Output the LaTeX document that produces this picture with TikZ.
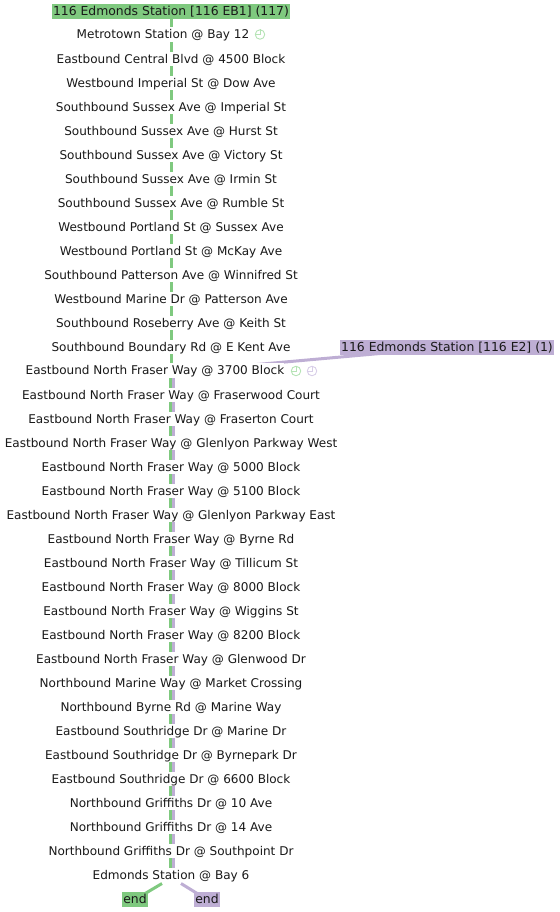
\documentclass[tikz,border=0pt]{standalone}
\usepackage{fontspec}
\setmainfont{DejaVu Sans}
\usetikzlibrary{backgrounds}
\definecolor{grn}{HTML}{7FC97F}
\definecolor{pur}{HTML}{BEAED4}
\definecolor{grnl}{HTML}{B5E3B5}
\definecolor{purl}{HTML}{D8CEE8}
\tikzset{
  x=1pt,y=-1pt,
  stop/.style={fill=white,inner sep=0pt,minimum height=14.5pt,text height=9pt,text depth=0.5pt,font=\fontsize{12.05}{14}\selectfont,text=black!90},
  route/.style={inner sep=1pt,minimum height=15pt,text height=9pt,text depth=0.5pt,font=\fontsize{12.4}{14}\selectfont,text=black!90},
  gl/.style={draw=grn,line width=3pt},
  pl/.style={draw=pur,line width=3pt},
  clockg/.style={circle,draw=grnl,line width=.9pt,minimum size=9.5pt,inner sep=0pt},
  clockp/.style={circle,draw=purl,line width=.9pt,minimum size=9.5pt,inner sep=0pt},
}
\newcommand{\clockhands}[2]{\draw[#2,line width=.8pt] (#1.north) -- (#1.center) -- (#1.west);}
\begin{document}
\begin{tikzpicture}
\useasboundingbox (0,0) rectangle (559,912);
\node[route,fill=grn,minimum width=238pt] (top) at (171,11.5) {116 Edmonds Station [116 EB1] (117)};
\node[route,fill=pur,minimum width=214pt] (e2) at (447,347.5) {116 Edmonds Station [116 E2] (1)};
\node[stop] (s1) at (163,34.5) {Metrotown Station @ Bay 12};
\node[stop] (s2) at (171,59) {Eastbound Central Blvd @ 4500 Block};
\node[stop] (s3) at (171,83) {Westbound Imperial St @ Dow Ave};
\node[stop] (s4) at (171,107) {Southbound Sussex Ave @ Imperial St};
\node[stop] (s5) at (171,131) {Southbound Sussex Ave @ Hurst St};
\node[stop] (s6) at (171,155) {Southbound Sussex Ave @ Victory St};
\node[stop] (s7) at (171,179) {Southbound Sussex Ave @ Irmin St};
\node[stop] (s8) at (171,203) {Southbound Sussex Ave @ Rumble St};
\node[stop] (s9) at (171,227) {Westbound Portland St @ Sussex Ave};
\node[stop] (s10) at (171,251) {Westbound Portland St @ McKay Ave};
\node[stop] (s11) at (171,275) {Southbound Patterson Ave @ Winnifred St};
\node[stop] (s12) at (171,299) {Westbound Marine Dr @ Patterson Ave};
\node[stop] (s13) at (171,323) {Southbound Roseberry Ave @ Keith St};
\node[stop] (s14) at (171,347) {Southbound Boundary Rd @ E Kent Ave};
\node[stop] (s15) at (155,370.5) {Eastbound North Fraser Way @ 3700 Block};
\node[stop] (s16) at (171,395) {Eastbound North Fraser Way @ Fraserwood Court};
\node[stop] (s17) at (171,419) {Eastbound North Fraser Way @ Fraserton Court};
\node[stop] (s18) at (171,443) {Eastbound North Fraser Way @ Glenlyon Parkway West};
\node[stop] (s19) at (171,467) {Eastbound North Fraser Way @ 5000 Block};
\node[stop] (s20) at (171,491) {Eastbound North Fraser Way @ 5100 Block};
\node[stop] (s21) at (171,515) {Eastbound North Fraser Way @ Glenlyon Parkway East};
\node[stop] (s22) at (171,539) {Eastbound North Fraser Way @ Byrne Rd};
\node[stop] (s23) at (171,563) {Eastbound North Fraser Way @ Tillicum St};
\node[stop] (s24) at (171,587) {Eastbound North Fraser Way @ 8000 Block};
\node[stop] (s25) at (171,611) {Eastbound North Fraser Way @ Wiggins St};
\node[stop] (s26) at (171,635) {Eastbound North Fraser Way @ 8200 Block};
\node[stop] (s27) at (171,659) {Eastbound North Fraser Way @ Glenwood Dr};
\node[stop] (s28) at (171,683) {Northbound Marine Way @ Market Crossing};
\node[stop] (s29) at (171,707) {Northbound Byrne Rd @ Marine Way};
\node[stop] (s30) at (171,731) {Eastbound Southridge Dr @ Marine Dr};
\node[stop] (s31) at (171,755) {Eastbound Southridge Dr @ Byrnepark Dr};
\node[stop] (s32) at (171,779) {Eastbound Southridge Dr @ 6600 Block};
\node[stop] (s33) at (171,803) {Northbound Griffiths Dr @ 10 Ave};
\node[stop] (s34) at (171,827) {Northbound Griffiths Dr @ 14 Ave};
\node[stop] (s35) at (171,851) {Northbound Griffiths Dr @ Southpoint Dr};
\node[stop] (s36) at (171,875) {Edmonds Station @ Bay 6};
\node[route,fill=grn,minimum width=24pt] (endg) at (135,899.5) {end};
\node[route,fill=pur,minimum width=24pt] (endp) at (207,899.5) {end};
\node[clockg] (c1) at (260,34.5) {};
\clockhands{c1}{grnl}
\node[clockg] (c2) at (296,371) {};
\clockhands{c2}{grnl}
\node[clockp] (c3) at (312,371) {};
\clockhands{c3}{purl}
\coordinate (jg) at (170.5,372);
\coordinate (jp) at (173.2,372);
\coordinate (fg) at (170.5,875);
\coordinate (fp) at (173.2,875);
\coordinate (bg) at (162,883.5);
\coordinate (bp) at (181,883.5);
\begin{scope}[on background layer]
\draw[gl] ([xshift=.3pt]top.south) -- (171.3,372) -- (jg) -- (fg);
\draw[gl] (bg) -- (endg.center);
\draw[pl,line width=2.6pt] (jp) -- (fp);
\draw[pl] (e2.center) -- (jp);
\draw[pl] (bp) -- (endp.center);
\end{scope}
\end{tikzpicture}
\end{document}
